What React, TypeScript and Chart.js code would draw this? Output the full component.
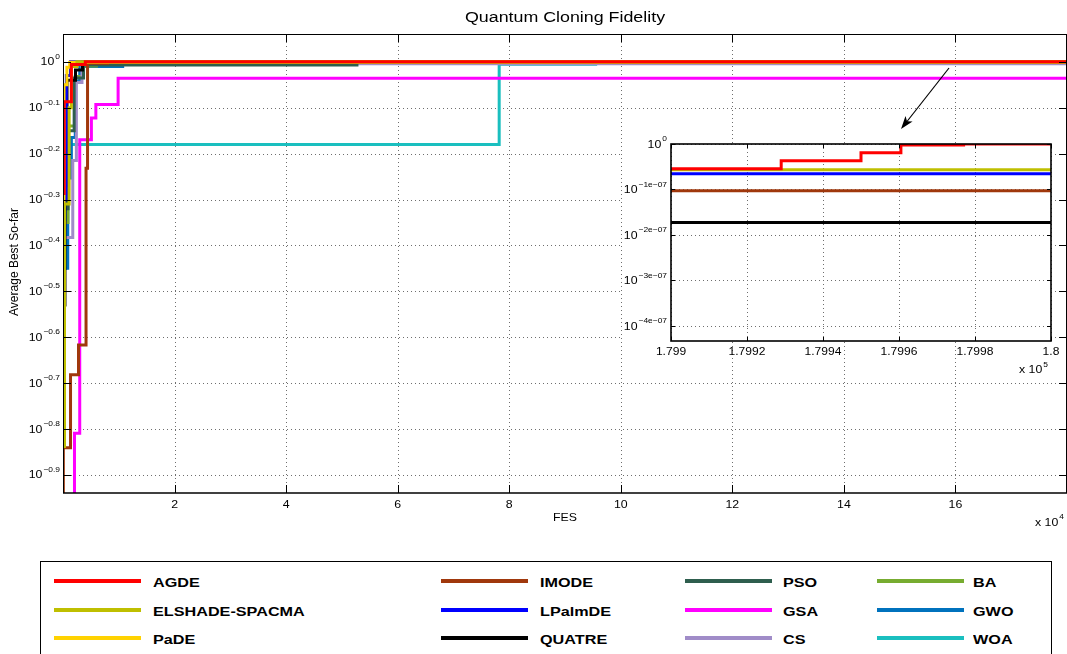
import React, { useEffect, useRef } from "react";
import { Chart, registerables } from "chart.js";

Chart.register(...registerables);

const TITLE = "Quantum Cloning Fidelity";
const X_TITLE = "FES";
const Y_TITLE = "Average Best So-far";

const NAMES = ["AGDE", "ELSHADE-SPACMA", "PaDE", "IMODE", "LPalmDE", "QUATRE", "PSO", "GSA", "CS", "BA", "GWO", "WOA"];
const COLORS = ["#FF0000", "#BFBF00", "#FFD200", "#A0380C", "#0000FF", "#000000", "#2E5E4E", "#FF00FF", "#A08CC8", "#77AC30", "#0072BD", "#1ABFBF"];

// Main plot: [FES, log10(Average Best So-far)]
const AGDE = [[0, -0.287], [200, -0.087], [1500, -0.006], [4000, 0], [180000, 0]];
const ELSHADE = [[0, -0.838], [270, -0.31], [1100, -0.1], [1500, -0.01], [2500, -0.0000001], [180000, -0.0000001]];
const PADE = [[0, -0.62], [180, -0.05], [700, -0.012], [1200, -0.001], [180000, -0.0005]];
const IMODE = [[0, -1.0], [60, -0.841], [1350, -0.682], [2780, -0.617], [4130, -0.232], [4400, -0.003], [8000, -0.0000001], [180000, -0.0000001]];
const LPALMDE = [[0, -0.38], [300, -0.3], [600, -0.03], [1350, -0.0000001], [180000, -0.0000001]];
const QUATRE = [[0, -0.53], [350, -0.27], [720, -0.04], [2240, -0.018], [3500, -0.0002], [180000, -0.0002]];
const PSO = [[0, -0.32], [900, -0.15], [2000, -0.035], [3680, -0.007], [52700, -0.0003], [180000, -0.0003]];
const GSA = [[0, -1.0], [2060, -0.809], [3000, -0.17], [5090, -0.1225], [5890, -0.093], [9880, -0.036], [180000, -0.036]];
const CS = [[0, -0.383], [1750, -0.215], [2400, -0.045], [3400, -0.004], [180000, -0.0005]];
const BA = [[0, -0.35], [900, -0.14], [2200, -0.032], [3560, -0.009], [6000, -0.0005], [180000, -0.0005]];
const GWO = [[0, -0.45], [850, -0.253], [1500, -0.165], [2200, -0.042], [3000, -0.01], [10700, -0.005], [22700, -0.0003], [180000, -0.0003]];
const WOA = [[0, -0.45], [500, -0.18], [78200, -0.0055], [95500, -0.0003], [180000, -0.0003]];
const MAIN_SERIES = [AGDE, ELSHADE, PADE, IMODE, LPALMDE, QUATRE, PSO, GSA, CS, BA, GWO, WOA];

// Inset (zoom on the last 100 FES): [FES, log10(Average Best So-far)]
const AGDE_ZOOM = [[179900, -0.544e-7], [179929, -0.368e-7], [179950, -0.192e-7], [179960.5, -0.022e-7], [179977, 0], [180000, 0]];
const ELSHADE_ZOOM = [[179900, -0.566e-7], [180000, -0.566e-7]];
const LPALMDE_ZOOM = [[179900, -0.654e-7], [180000, -0.654e-7]];
const IMODE_ZOOM = [[179900, -1.029e-7], [180000, -1.029e-7]];
const QUATRE_ZOOM = [[179900, -1.727e-7], [180000, -1.727e-7]];
const ZOOM_SERIES = [
  { idx: 0, data: AGDE_ZOOM },
  { idx: 1, data: ELSHADE_ZOOM },
  { idx: 4, data: LPALMDE_ZOOM },
  { idx: 3, data: IMODE_ZOOM },
  { idx: 5, data: QUATRE_ZOOM },
];

const MAIN_X_TICKS = [20000, 40000, 60000, 80000, 100000, 120000, 140000, 160000];
const MAIN_X_LABELS = ["2", "4", "6", "8", "10", "12", "14", "16"];
const MAIN_X_POWER = "4";
const MAIN_Y_TICKS = [0, -0.1, -0.2, -0.3, -0.4, -0.5, -0.6, -0.7, -0.8, -0.9];
const MAIN_Y_LABELS = ["0", "−0.1", "−0.2", "−0.3", "−0.4", "−0.5", "−0.6", "−0.7", "−0.8", "−0.9"];
const ZOOM_X_TICKS = [179900, 179920, 179940, 179960, 179980, 180000];
const ZOOM_X_LABELS = ["1.799", "1.7992", "1.7994", "1.7996", "1.7998", "1.8"];
const ZOOM_X_POWER = "5";
const ZOOM_Y_TICKS = [0, -1e-7, -2e-7, -3e-7, -4e-7];
const ZOOM_Y_LABELS = ["0", "−1e−07", "−2e−07", "−3e−07", "−4e−07"];

const FONT = '"Liberation Sans", Arial, Helvetica, sans-serif';
const SX = 1.12;

function drawText(ctx: CanvasRenderingContext2D, s: string, x: number, y: number, size: number, align = "left", sx = SX, bold = false) {
  ctx.save();
  ctx.font = `${bold ? "bold " : ""}${size}px ${FONT}`;
  ctx.textBaseline = "middle";
  ctx.textAlign = "left";
  const w = ctx.measureText(s).width * sx;
  const x0 = align === "center" ? x - w / 2 : align === "right" ? x - w : x;
  ctx.translate(x0, y);
  ctx.scale(sx, 1);
  ctx.fillStyle = "#000";
  ctx.fillText(s, 0, 0);
  ctx.restore();
  return w;
}

function measure(ctx: CanvasRenderingContext2D, s: string, size: number, sx = SX) {
  ctx.save();
  ctx.font = `${size}px ${FONT}`;
  const w = ctx.measureText(s).width * sx;
  ctx.restore();
  return w;
}

function powerLabel(ctx: CanvasRenderingContext2D, exp: string, xRight: number, yMid: number, base: number, sup: number) {
  const wb = measure(ctx, "10", base);
  const ws = measure(ctx, exp, sup);
  const x0 = xRight - wb - ws - 1;
  drawText(ctx, "10", x0, yMid + 0.5, base);
  drawText(ctx, exp, x0 + wb + 1, yMid - 5, sup);
}

function hline(ctx: CanvasRenderingContext2D, x1: number, x2: number, y: number) {
  ctx.beginPath();
  ctx.moveTo(x1, y);
  ctx.lineTo(x2, y);
  ctx.stroke();
}

function vline(ctx: CanvasRenderingContext2D, x: number, y1: number, y2: number) {
  ctx.beginPath();
  ctx.moveTo(x, y1);
  ctx.lineTo(x, y2);
  ctx.stroke();
}

const mainDecor = {
  id: "mainDecor",
  beforeDatasetsDraw(chart: any) {
    const { ctx, chartArea: a, scales } = chart;
    const xs = scales.x;
    const ys = scales.y;
    ctx.save();
    ctx.strokeStyle = "#6e6e6e";
    ctx.lineWidth = 1;
    ctx.setLineDash([1, 3]);
    for (const t of MAIN_X_TICKS) {
      const px = Math.round(xs.getPixelForValue(t)) + 0.5;
      vline(ctx, px, a.top, a.bottom);
    }
    for (const t of MAIN_Y_TICKS) {
      const py = Math.round(ys.getPixelForValue(t)) + 0.5;
      hline(ctx, a.left, a.right, py);
    }
    ctx.restore();
  },
  afterDatasetsDraw(chart: any) {
    const { ctx, chartArea: a, scales } = chart;
    const xs = scales.x;
    const ys = scales.y;
    ctx.save();
    ctx.strokeStyle = "#000";
    ctx.setLineDash([]);
    ctx.lineWidth = 1;
    const L = a.left + 0.5;
    const R = a.right - 0.5;
    const T = a.top + 0.5;
    hline(ctx, a.left, a.right, T);
    vline(ctx, L, a.top, a.bottom);
    vline(ctx, R, a.top, a.bottom);
    ctx.lineWidth = 1.6;
    hline(ctx, a.left, a.right, a.bottom);
    ctx.lineWidth = 1;
    const tl = 8;
    for (const t of MAIN_X_TICKS) {
      const px = Math.round(xs.getPixelForValue(t)) + 0.5;
      vline(ctx, px, a.bottom, a.bottom - tl);
      vline(ctx, px, a.top, a.top + tl);
    }
    for (const t of MAIN_Y_TICKS) {
      const py = Math.round(ys.getPixelForValue(t)) + 0.5;
      hline(ctx, a.left, a.left + tl, py);
      hline(ctx, a.right, a.right - tl, py);
    }
    MAIN_X_TICKS.forEach((t, i) => drawText(ctx, MAIN_X_LABELS[i], xs.getPixelForValue(t), a.bottom + 12, 11, "center"));
    MAIN_Y_TICKS.forEach((t, i) => powerLabel(ctx, MAIN_Y_LABELS[i], a.left - 3, ys.getPixelForValue(t), 11, 7.5));
    const wp = measure(ctx, MAIN_X_POWER, 7.5);
    drawText(ctx, "x 10", a.right - 4 - wp, a.bottom + 30, 11, "right");
    drawText(ctx, MAIN_X_POWER, a.right - 3 - wp, a.bottom + 24, 7.5);
    drawText(ctx, X_TITLE, (a.left + a.right) / 2, a.bottom + 25, 11, "center");
    drawText(ctx, TITLE, (a.left + a.right) / 2, 18, 15.5, "center", 1.15);
    ctx.save();
    ctx.translate(15, 262);
    ctx.rotate(-Math.PI / 2);
    drawText(ctx, Y_TITLE, 0, 0, 12, "center", 1);
    ctx.restore();
    // arrow pointing at the inset
    const x1 = 949;
    const y1 = 68;
    const x2 = 901;
    const y2 = 129;
    ctx.lineWidth = 1.2;
    ctx.beginPath();
    ctx.moveTo(x1, y1);
    ctx.lineTo(x2 + 4, y2 - 5);
    ctx.stroke();
    const ang = Math.atan2(y2 - y1, x2 - x1);
    const hl = 13;
    const hw = 4.5;
    ctx.beginPath();
    ctx.moveTo(x2, y2);
    ctx.lineTo(x2 - hl * Math.cos(ang) + hw * Math.sin(ang), y2 - hl * Math.sin(ang) - hw * Math.cos(ang));
    ctx.lineTo(x2 - hl * 0.75 * Math.cos(ang), y2 - hl * 0.75 * Math.sin(ang));
    ctx.lineTo(x2 - hl * Math.cos(ang) - hw * Math.sin(ang), y2 - hl * Math.sin(ang) + hw * Math.cos(ang));
    ctx.closePath();
    ctx.fillStyle = "#000";
    ctx.fill();
    ctx.restore();
  },
};

const zoomDecor = {
  id: "zoomDecor",
  beforeDraw(chart: any) {
    const { ctx, chartArea: a } = chart;
    ctx.save();
    ctx.fillStyle = "#fff";
    ctx.fillRect(22, a.top, a.right + 4 - 22, a.bottom - a.top);
    ctx.restore();
  },
  beforeDatasetsDraw(chart: any) {
    const { ctx, chartArea: a, scales } = chart;
    const xs = scales.x;
    const ys = scales.y;
    ctx.save();
    ctx.strokeStyle = "#6e6e6e";
    ctx.lineWidth = 1;
    ctx.setLineDash([1, 3]);
    for (const t of ZOOM_X_TICKS) {
      const px = Math.round(xs.getPixelForValue(t)) + 0.5;
      vline(ctx, px, a.top, a.bottom);
    }
    for (const t of ZOOM_Y_TICKS) {
      const py = Math.round(ys.getPixelForValue(t)) + 0.5;
      hline(ctx, a.left, a.right, py);
    }
    ctx.restore();
  },
  afterDatasetsDraw(chart: any) {
    const { ctx, chartArea: a, scales } = chart;
    const xs = scales.x;
    const ys = scales.y;
    ctx.save();
    ctx.strokeStyle = "#000";
    ctx.lineWidth = 1.6;
    ctx.strokeRect(a.left, a.top, a.right - a.left, a.bottom - a.top);
    ctx.lineWidth = 1;
    for (const t of ZOOM_X_TICKS) {
      const px = Math.round(xs.getPixelForValue(t)) + 0.5;
      vline(ctx, px, a.bottom, a.bottom - 4);
      vline(ctx, px, a.top, a.top + 4);
    }
    for (const t of ZOOM_Y_TICKS) {
      const py = Math.round(ys.getPixelForValue(t)) + 0.5;
      hline(ctx, a.left, a.left + 4, py);
      hline(ctx, a.right, a.right - 4, py);
    }
    ZOOM_X_TICKS.forEach((t, i) => drawText(ctx, ZOOM_X_LABELS[i], xs.getPixelForValue(t), a.bottom + 11, 11.5, "center", 1.05));
    ZOOM_Y_TICKS.forEach((t, i) => powerLabel(ctx, ZOOM_Y_LABELS[i], a.left - 4, ys.getPixelForValue(t), 11, 7.5));
    const wp = measure(ctx, ZOOM_X_POWER, 7.5);
    drawText(ctx, "x 10", a.right - 4 - wp, a.bottom + 29, 11, "right");
    drawText(ctx, ZOOM_X_POWER, a.right - 3 - wp, a.bottom + 24, 7.5);
    ctx.restore();
  },
};

const LEG_LINE_X = [54, 441, 685, 877];
const LEG_TEXT_X = [153, 540, 783, 973];
const LEG_ROW_Y = [581, 610, 638];

export default function App() {
  const mainRef = useRef<HTMLCanvasElement>(null);
  const zoomRef = useRef<HTMLCanvasElement>(null);

  useEffect(() => {
    const main = new Chart(mainRef.current as HTMLCanvasElement, {
      type: "line",
      data: {
        datasets: MAIN_SERIES.map((s, i) => ({
          label: NAMES[i],
          data: s.map(([x, y]) => ({ x, y })),
          borderColor: COLORS[i],
          backgroundColor: COLORS[i],
          borderWidth: 3,
          pointRadius: 0,
          stepped: true,
          fill: false,
        })),
      },
      options: {
        responsive: false,
        animation: false,
        events: [],
        layout: { padding: { left: 63, top: 34, right: 0, bottom: 161 } },
        scales: {
          x: { type: "linear", min: 0, max: 180000, display: false },
          y: { type: "linear", min: -0.9394, max: 0.0606, display: false },
        },
        plugins: { legend: { display: false }, tooltip: { enabled: false }, title: { display: false } },
      },
      plugins: [mainDecor],
    } as any);

    const zoom = new Chart(zoomRef.current as HTMLCanvasElement, {
      type: "line",
      data: {
        datasets: ZOOM_SERIES.map((s) => ({
          label: NAMES[s.idx],
          data: s.data.map(([x, y]) => ({ x, y })),
          borderColor: COLORS[s.idx],
          backgroundColor: COLORS[s.idx],
          borderWidth: 3,
          pointRadius: 0,
          stepped: true,
          fill: false,
        })),
      },
      options: {
        responsive: false,
        animation: false,
        events: [],
        layout: { padding: { left: 71, top: 24, right: 16, bottom: 59 } },
        scales: {
          x: { type: "linear", min: 179900, max: 180000, display: false },
          y: { type: "linear", min: -4.33e-7, max: 0, display: false },
        },
        plugins: { legend: { display: false }, tooltip: { enabled: false }, title: { display: false } },
      },
      plugins: [zoomDecor],
    } as any);

    return () => {
      main.destroy();
      zoom.destroy();
    };
  }, []);

  return (
    <div style={{ position: "fixed", left: 0, top: 0, width: 1067, height: 654, background: "#fff", overflow: "hidden" }}>
      <canvas ref={mainRef} width={1067} height={654} style={{ position: "absolute", left: 0, top: 0 }} />
      <canvas ref={zoomRef} width={467} height={280} style={{ position: "absolute", left: 600, top: 120 }} />
      <div
        style={{
          position: "absolute",
          left: 40,
          top: 561,
          width: 1012,
          height: 130,
          border: "1.5px solid #000",
          boxSizing: "border-box",
          background: "#fff",
        }}
      />
      {NAMES.map((name, i) => {
        const col = Math.floor(i / 3);
        const row = i % 3;
        return (
          <React.Fragment key={name}>
            <div
              style={{
                position: "absolute",
                left: LEG_LINE_X[col],
                top: LEG_ROW_Y[row] - 2,
                width: 87,
                height: 4,
                background: COLORS[i],
              }}
            />
            <div
              style={{
                position: "absolute",
                left: LEG_TEXT_X[col],
                top: LEG_ROW_Y[row] - 6,
                height: 16,
                lineHeight: "16px",
                fontFamily: FONT,
                fontWeight: "bold",
                fontSize: 12,
                whiteSpace: "nowrap",
                transform: "scaleX(1.35)",
                transformOrigin: "left center",
                color: "#000",
              }}
            >
              {name}
            </div>
          </React.Fragment>
        );
      })}
    </div>
  );
}
